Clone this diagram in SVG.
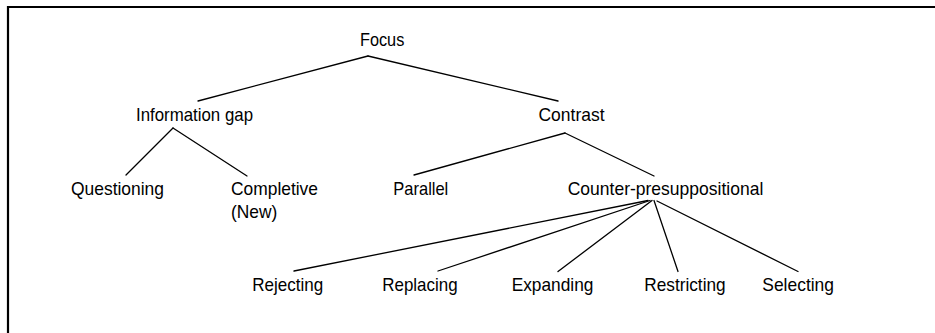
<svg xmlns="http://www.w3.org/2000/svg" width="935" height="333" viewBox="0 0 935 333">
<style>
text{font-family:"Liberation Sans",Arial,sans-serif;font-size:19px;fill:#000}
.c{stroke:#000;stroke-width:1.3;fill:none;stroke-linecap:round}
</style>
<rect width="935" height="333" fill="#fff"/>
<path d="M8,333 V7 H935" stroke="#000" stroke-width="2.2" fill="none"/>
<g id="connectors" class="c">
<line x1="368" y1="56" x2="198" y2="101"/>
<line x1="368" y1="56" x2="558" y2="101"/>
<line x1="173" y1="128" x2="126" y2="175"/>
<line x1="173" y1="128" x2="247" y2="176"/>
<line x1="565" y1="133" x2="414" y2="175"/>
<line x1="565" y1="133" x2="654" y2="176"/>
<line x1="648" y1="200.5" x2="294" y2="271"/>
<line x1="650" y1="200.5" x2="438" y2="271"/>
<line x1="652" y1="200.5" x2="558" y2="271.5"/>
<line x1="654" y1="200.5" x2="678" y2="271.5"/>
<line x1="657" y1="201" x2="798" y2="271.5"/>
</g>
<g id="focus"><text x="360" y="46" textLength="44.3" lengthAdjust="spacingAndGlyphs">Focus</text></g>
<g id="information-gap"><text x="136" y="121" textLength="117" lengthAdjust="spacingAndGlyphs">Information gap</text></g>
<g id="contrast"><text x="538.5" y="121" textLength="66" lengthAdjust="spacingAndGlyphs">Contrast</text></g>
<g id="questioning"><text x="71" y="194.5" textLength="93" lengthAdjust="spacingAndGlyphs">Questioning</text></g>
<g id="completive"><text x="231" y="194.5" textLength="87" lengthAdjust="spacingAndGlyphs">Completive</text><text x="231" y="217.5" textLength="46.3" lengthAdjust="spacingAndGlyphs">(New)</text></g>
<g id="parallel"><text x="393.3" y="194.5" textLength="55" lengthAdjust="spacingAndGlyphs">Parallel</text></g>
<g id="counter-presuppositional"><text x="567.7" y="194.5" textLength="195.6" lengthAdjust="spacingAndGlyphs">Counter-presuppositional</text></g>
<g id="rejecting"><text x="252.3" y="291" textLength="71" lengthAdjust="spacingAndGlyphs">Rejecting</text></g>
<g id="replacing"><text x="382.3" y="291" textLength="75.3" lengthAdjust="spacingAndGlyphs">Replacing</text></g>
<g id="expanding"><text x="511.7" y="291" textLength="81.7" lengthAdjust="spacingAndGlyphs">Expanding</text></g>
<g id="restricting"><text x="644.3" y="291" textLength="81.3" lengthAdjust="spacingAndGlyphs">Restricting</text></g>
<g id="selecting"><text x="762.3" y="291" textLength="71.7" lengthAdjust="spacingAndGlyphs">Selecting</text></g>
</svg>
